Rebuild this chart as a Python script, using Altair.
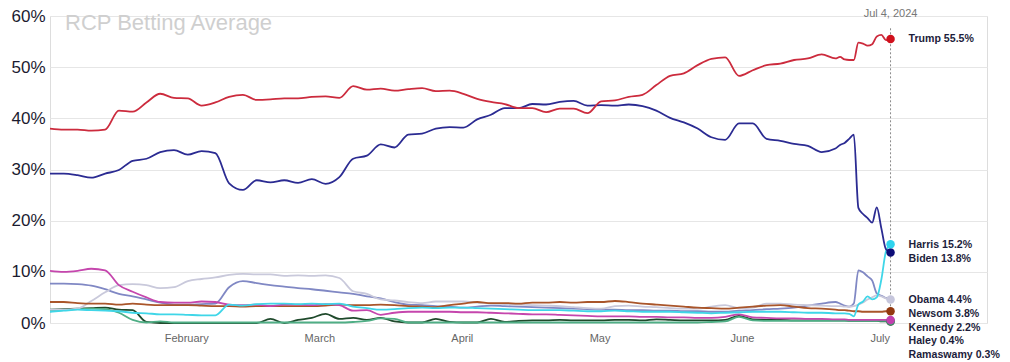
import altair as alt
import pandas as pd

# ---------------- data ----------------
start = pd.Timestamp("2024-01-03")
dates = [start + pd.Timedelta(days=3 * i) for i in range(58)] + \
        [pd.Timestamp("2024-06-23") + pd.Timedelta(days=i) for i in range(12)]
date_str = [d.strftime("%Y-%m-%dT00:00:00") for d in dates]

title_text = "RCP Betting Average"

trump = [38.0, 37.8, 37.8, 37.6, 37.8, 41.5, 41.3, 43.1, 44.8, 44.0,
         43.9, 42.5, 43.1, 44.2, 44.6, 43.6, 43.7, 43.9, 43.9, 44.2,
         44.3, 44.0, 46.3, 45.6, 45.8, 45.4, 45.7, 45.9, 45.3, 45.4,
         44.8, 43.8, 43.2, 42.8, 42.0, 42.0, 41.2, 41.9, 41.9, 41.0,
         43.3, 43.5, 44.2, 44.6, 46.5, 48.3, 48.8, 50.4, 51.6, 51.9,
         48.3, 49.4, 50.4, 50.7, 51.4, 51.7, 52.5, 51.7,
         52.0, 51.5, 51.4, 51.4, 54.8, 54.6, 54.2, 54.5, 56.0, 56.3, 55.3, 55.5]
biden = [29.2, 29.2, 28.9, 28.4, 29.2, 29.9, 31.7, 32.1, 33.4, 33.8,
         32.9, 33.6, 33.2, 27.3, 26.0, 27.9, 27.5, 27.9, 27.4, 28.1,
         27.2, 28.5, 32.1, 32.7, 34.9, 34.3, 36.8, 37.0, 38.0, 38.3,
         38.2, 39.8, 40.7, 42.0, 42.0, 42.8, 42.7, 43.2, 43.4, 42.5,
         42.6, 42.5, 42.7, 42.4, 41.5, 40.1, 39.2, 38.0, 36.3, 35.8,
         39.0, 39.0, 36.0, 35.6, 35.0, 34.6, 33.4, 34.1,
         34.8, 35.2, 36.0, 36.8, 22.5, 21.3, 20.5, 19.6, 22.6, 18.5, 14.4, 13.8]
harris = [2.2, 2.4, 2.6, 2.5, 2.4, 2.3, 2.0, 1.9, 1.7, 1.7,
          1.6, 1.5, 1.5, 3.6, 3.4, 3.7, 3.8, 3.8, 3.7, 3.8,
          3.7, 3.8, 3.2, 2.9, 2.6, 2.7, 2.9, 3.0, 2.9, 3.0,
          3.0, 2.9, 2.8, 2.7, 2.6, 2.5, 2.5, 2.5, 2.4, 2.3,
          2.3, 2.4, 2.3, 2.2, 2.2, 2.2, 2.1, 2.0, 1.9, 2.0,
          2.1, 2.2, 2.2, 2.2, 2.1, 2.0, 2.0, 1.9,
          1.9, 1.9, 1.8, 1.3, 3.6, 4.2, 5.2, 4.6, 5.0, 8.5, 14.0, 15.4]
obama = [2.6, 2.6, 2.8, 4.3, 6.0, 7.4, 7.6, 7.4, 6.8, 7.0,
         8.2, 8.6, 8.9, 9.4, 9.6, 9.5, 9.5, 9.2, 9.3, 9.2,
         9.3, 8.8, 6.2, 5.7, 4.6, 4.4, 4.1, 3.9, 4.2, 4.2,
         4.2, 4.0, 3.8, 3.7, 3.6, 3.5, 3.4, 3.3, 3.1, 2.9,
         2.8, 3.3, 3.4, 3.2, 3.1, 2.9, 2.8, 2.8, 3.2, 3.5,
         2.9, 3.0, 3.8, 3.8, 3.6, 3.5, 3.4, 3.3,
         3.3, 3.2, 3.2, 3.3, 3.6, 4.0, 4.6, 5.0, 5.4, 5.2, 4.8, 4.6]
other = [7.7, 7.7, 7.6, 7.3, 6.6, 5.7, 5.2, 4.6, 4.0, 3.6,
         3.6, 3.7, 3.8, 7.0, 8.2, 7.8, 7.4, 7.1, 6.8, 6.6,
         6.3, 6.0, 5.7, 5.2, 4.8, 4.1, 3.6, 3.5, 3.3, 3.2,
         3.0, 3.2, 3.4, 3.3, 3.2, 3.1, 3.0, 2.9, 2.8, 2.7,
         2.6, 2.6, 2.5, 2.5, 2.4, 2.4, 2.3, 2.3, 2.2, 2.2,
         2.4, 2.5, 2.7, 2.8, 3.0, 3.4, 3.8, 4.1,
         3.8, 3.4, 3.2, 3.8, 10.3, 9.9, 9.1, 8.3, 5.8, 5.3, 4.9, 4.5]
newsom = [4.1, 4.1, 3.9, 3.8, 3.8, 3.6, 3.8, 3.6, 3.5, 3.5,
          3.5, 3.4, 3.3, 3.3, 3.2, 3.3, 3.3, 3.3, 3.3, 3.3,
          3.4, 3.6, 3.5, 3.5, 3.6, 3.5, 3.3, 3.2, 3.1, 3.5,
          3.8, 4.1, 3.9, 3.9, 3.8, 4.0, 4.0, 4.1, 4.0, 4.1,
          4.1, 4.3, 4.1, 3.8, 3.6, 3.4, 3.2, 3.0, 2.9, 2.8,
          3.0, 3.2, 3.4, 3.5, 3.2, 2.9, 2.8, 2.6,
          2.5, 2.5, 2.4, 2.3, 2.3, 2.2, 2.2, 2.2, 2.2, 2.2, 2.3, 2.3]
kennedy = [10.2, 10.0, 10.2, 10.6, 10.3, 7.4, 6.1, 5.0, 4.1, 4.0,
           4.0, 4.2, 4.1, 3.6, 3.5, 3.6, 3.3, 3.6, 3.6, 3.5,
           3.7, 3.5, 2.4, 2.5, 1.6, 2.0, 2.2, 2.2, 2.2, 2.2,
           2.1, 2.1, 2.0, 1.9, 1.8, 1.7, 1.7, 1.6, 1.5, 1.4,
           1.3, 1.3, 1.3, 1.2, 1.2, 1.1, 1.1, 1.0, 1.0, 1.2,
           1.7, 1.1, 1.0, 0.9, 0.9, 0.8, 0.8, 0.7,
           0.7, 0.7, 0.6, 0.6, 0.6, 0.6, 0.6, 0.6, 0.6, 0.6, 0.6, 0.6]
haley = [2.3, 2.5, 2.7, 2.8, 2.7, 2.0, 0.6, 0.1, 0.3, 0.1,
         0.1, 0.1, 0.1, 0.1, 0.1, 0.1, 0.1, 0.1, 0.1, 0.1,
         0.1, 0.1, 0.2, 0.4, 0.9, 0.8, 0.1, 0.1, 0.1, 0.1,
         0.1, 0.1, 0.1, 0.1, 0.1, 0.1, 0.1, 0.1, 0.1, 0.1,
         0.1, 0.1, 0.1, 0.1, 0.1, 0.1, 0.1, 0.1, 0.2, 0.3,
         1.2, 0.5, 0.4, 0.4, 0.4, 0.4, 0.4, 0.4,
         0.4, 0.4, 0.4, 0.4, 0.4, 0.4, 0.4, 0.4, 0.4, 0.4, 0.4, 0.4]
ramaswamy = [2.6, 2.7, 2.8, 2.9, 3.0, 2.6, 2.5, 0.2, 0.0, 0.0,
             0.0, 0.0, 0.0, 0.0, 0.0, 0.0, 0.8, 0.0, 0.6, 1.0,
             1.8, 0.8, 1.0, 0.6, 1.0, 0.3, 0.1, 0.1, 0.8, 0.2,
             0.1, 0.1, 0.8, 0.2, 0.4, 0.5, 0.5, 0.6, 0.5, 0.5,
             0.5, 0.6, 0.6, 0.5, 0.7, 0.6, 0.5, 0.5, 0.5, 0.6,
             1.4, 0.7, 0.6, 0.6, 0.5, 0.5, 0.5, 0.5,
             0.5, 0.5, 0.4, 0.4, 0.4, 0.4, 0.4, 0.4, 0.4, 0.3, 0.3, 0.3]

# drawing order: bottom first
series_names = ["Ramaswamy", "Haley", "Other", "Obama", "Newsom", "Kennedy",
                "Harris", "Biden", "Trump"]
series_values = [ramaswamy, haley, other, obama, newsom, kennedy,
                 harris, biden, trump]
line_colors = ["#1f4a2c", "#4fae85", "#8088c4", "#c9c9db", "#a9552a", "#c546ad",
               "#3fd6e8", "#2b2b92", "#cc2b3d"]

# end labels
label_names = ["Trump", "Harris", "Biden", "Obama", "Newsom", "Kennedy",
               "Haley", "Ramaswamy"]
label_values = [55.5, 15.2, 13.8, 4.4, 3.8, 2.2, 0.4, 0.3]
dot_colors = {"Trump": "#d0101c", "Harris": "#2fd3ee", "Biden": "#0d0d78",
              "Obama": "#c6c6dc", "Newsom": "#93380f", "Kennedy": "#c23fae",
              "Haley": "#3f9c74", "Ramaswamy": "#1b3f25"}
dot_order = ["Ramaswamy", "Haley", "Newsom", "Obama", "Kennedy", "Biden",
             "Harris", "Trump"]

y_ticks = [0, 10, 20, 30, 40, 50, 60]
month_ticks = [2, 3, 4, 5, 6, 7]

# ---------------- tables ----------------
rows = []
for name, vals in zip(series_names, series_values):
    for i, (d, v) in enumerate(zip(date_str, vals)):
        rows.append({"date": d, "value": v, "series": name, "idx": i})
df = pd.DataFrame(rows)

end_date = date_str[-1]
last_vals = {n: v[-1] for n, v in zip(series_names, series_values)}

dots = pd.DataFrame([{"date": end_date, "value": last_vals[n], "series": n,
                      "ord": k} for k, n in enumerate(dot_order)])

gap = 2.65
lab_rows = []
prev = None
for n, v in zip(label_names, label_values):
    y = v if prev is None else min(v, prev - gap)
    prev = y
    lab_rows.append({"date": end_date, "ly": y, "text": f"{n} {v}%"})
labels = pd.DataFrame(lab_rows)

marker = pd.DataFrame([{"date": end_date,
                        "text": dates[-1].strftime("%b ") + str(dates[-1].day) + dates[-1].strftime(", %Y")}])
title_df = pd.DataFrame([{"t": title_text}])

# ---------------- chart ----------------
FONT = "Liberation Sans"
xscale = alt.Scale(domain=[alt.DateTime(year=2024, month=1, date=3),
                           alt.DateTime(year=2024, month=7, date=25)])
yscale = alt.Scale(domain=[0, 60], nice=False)

x_axis = alt.Axis(values=[alt.DateTime(year=2024, month=m, date=1) for m in month_ticks],
                  format="%B", title=None, grid=False, ticks=False, domain=False,
                  labelColor="#666666", labelFontSize=11, labelFont=FONT,
                  labelPadding=9, labelOffset=3)
y_axis = alt.Axis(values=y_ticks, labelExpr="datum.value + '%'", title=None,
                  grid=True, gridColor="#e6e6e6", gridWidth=1, ticks=False,
                  domain=False, labelColor="#1b1b30", labelFontSize=17,
                  labelFont=FONT, labelPadding=5)

lines = alt.Chart(df).mark_line(strokeWidth=1.8, interpolate="monotone").encode(
    x=alt.X("date:T", scale=xscale, axis=x_axis),
    y=alt.Y("value:Q", scale=yscale, axis=y_axis),
    color=alt.Color("series:N", scale=alt.Scale(domain=series_names, range=line_colors),
                    legend=None),
    order="idx:Q",
)

title_mark = alt.Chart(title_df).mark_text(
    align="left", baseline="middle", fontSize=22, font=FONT, color="#cfcfcf"
).encode(x=alt.value(15), y=alt.value(7), text="t:N")

rule = alt.Chart(marker).mark_rule(color="#8a8a8a", strokeDash=[2, 2], strokeWidth=1).encode(
    x="date:T", y=alt.datum(57.6), y2=alt.datum(0)
)

marker_text = alt.Chart(marker).mark_text(
    baseline="bottom", align="center", dy=3, fontSize=11, font=FONT, color="#777777"
).encode(x="date:T", y=alt.datum(60), text="text:N")

points = alt.Chart(dots).mark_circle(size=72, opacity=1).encode(
    x="date:T", y="value:Q",
    color=alt.Color("series:N",
                    scale=alt.Scale(domain=list(dot_colors.keys()),
                                    range=list(dot_colors.values())),
                    legend=None),
    order="ord:Q",
)

end_labels = alt.Chart(labels).mark_text(
    align="left", baseline="middle", dx=18, fontSize=10.6, fontWeight="bold",
    font=FONT, color="#1d1d3b"
).encode(x="date:T", y="ly:Q", text="text:N")

chart = alt.layer(lines, title_mark, rule, marker_text, points, end_labels).resolve_scale(
    color="independent"
).properties(
    width=937, height=307,
    padding={"left": 42, "top": 8, "right": 15, "bottom": 39},
    autosize=alt.AutoSizeParams(type="none"),
).configure_view(stroke=None).configure(background="white")

chart.save("out.html", embed_options={"renderer": "svg", "actions": False})
